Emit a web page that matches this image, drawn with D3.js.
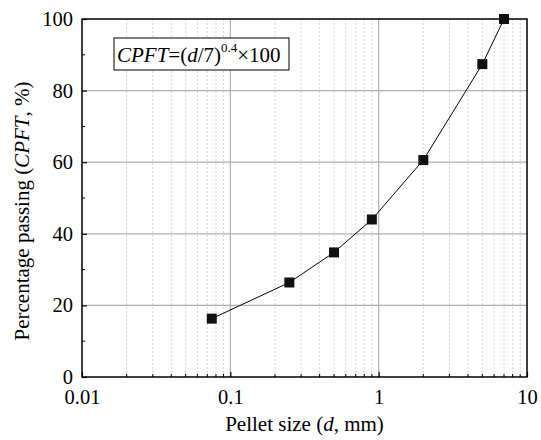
<!DOCTYPE html>
<html>
<head>
<meta charset="utf-8">
<script src="https://cdn.jsdelivr.net/npm/d3@7"></script>
<style>
  body { margin: 0; background: #fff; }
  svg text { font-family: "Liberation Serif", Tinos, "Times New Roman", "DejaVu Serif", serif !important; fill: #000; }
</style>
</head>
<body>
<svg id="chart" width="541" height="440"></svg>
<script>
// Pellet size distribution (Andreasen-type curve)
const pelletSize = [0.075, 0.25, 0.5, 0.9, 2, 5, 7];            // d, mm
const cpft       = [16.3, 26.4, 34.8, 44.0, 60.6, 87.4, 100];    // % passing
const xTickValues = [0.01, 0.1, 1, 10];
const xTickLabels = ["0.01", "0.1", "1", "10"];
const yTickValues = [0, 20, 40, 60, 80, 100];
const yTickLabels = ["0", "20", "40", "60", "80", "100"];

const W = 541, H = 440;
const margin = { left: 82, right: 14, top: 19, bottom: 63 };
const svg = d3.select("#chart");
const serif = '"Liberation Serif", Tinos, "Times New Roman", "DejaVu Serif", serif';

const x = d3.scaleLog().domain([0.01, 10]).range([margin.left, W - margin.right]);
const y = d3.scaleLinear().domain([0, 100]).range([H - margin.bottom, margin.top]);

const x0 = margin.left, x1 = W - margin.right, y0 = H - margin.bottom, y1 = margin.top;

// minor decade values 2..9 in each decade
const minorX = [];
[0.01, 0.1, 1].forEach(dec => { for (let k = 2; k <= 9; k++) minorX.push(+(dec * k).toPrecision(3)); });
const minorY = [10, 30, 50, 70, 90];

const grid = svg.append("g");
// minor vertical gridlines (dotted)
grid.selectAll("line.minx").data(minorX).join("line")
  .attr("x1", d => x(d)).attr("x2", d => x(d)).attr("y1", y0).attr("y2", y1)
  .attr("stroke", "#c8c8c8").attr("stroke-width", 0.8).attr("stroke-dasharray", "2,2");
// major vertical gridlines
grid.selectAll("line.majx").data([0.1, 1]).join("line")
  .attr("x1", d => x(d)).attr("x2", d => x(d)).attr("y1", y0).attr("y2", y1)
  .attr("stroke", "#b0b0b0").attr("stroke-width", 1.2);
// major horizontal gridlines
grid.selectAll("line.majy").data([20, 40, 60, 80]).join("line")
  .attr("x1", x0).attr("x2", x1).attr("y1", d => y(d)).attr("y2", d => y(d))
  .attr("stroke", "#b0b0b0").attr("stroke-width", 1.2);

// axes with inward ticks
const xAxis = d3.axisBottom(x).tickValues(xTickValues)
  .tickFormat((d, i) => xTickLabels[i]).tickSizeInner(-5).tickSizeOuter(0).tickPadding(12);
const gx = svg.append("g").attr("transform", `translate(0,${y0})`).call(xAxis);
gx.selectAll(".minor").data(minorX).join("line").attr("class", "minor")
  .attr("x1", d => x(d)).attr("x2", d => x(d)).attr("y1", 0).attr("y2", -3)
  .attr("stroke", "#000").attr("stroke-width", 1);

const yAxis = d3.axisLeft(y).tickValues(yTickValues)
  .tickFormat((d, i) => yTickLabels[i]).tickSizeInner(-5).tickSizeOuter(0).tickPadding(9);
const gy = svg.append("g").attr("transform", `translate(${x0},0)`).call(yAxis);
gy.selectAll(".minor").data(minorY).join("line").attr("class", "minor")
  .attr("x1", 0).attr("x2", 3).attr("y1", d => y(d)).attr("y2", d => y(d))
  .attr("stroke", "#000").attr("stroke-width", 1);

[gx, gy].forEach(g => {
  g.attr("font-family", serif);
  g.select(".domain").remove();
  g.selectAll(".tick line").attr("stroke", "#000").attr("stroke-width", 1.2);
  g.selectAll(".tick text").attr("font-size", 20.5).attr("font-family", serif).attr("fill", "#000");
});
gx.selectAll(".tick text").attr("dy", "0.71em");

// frame
svg.append("rect").attr("x", x0).attr("y", y1).attr("width", x1 - x0).attr("height", y0 - y1)
  .attr("fill", "none").attr("stroke", "#000").attr("stroke-width", 1.5);

// curve and markers
const pts = pelletSize.map((d, i) => [d, cpft[i]]);
svg.append("path").datum(pts)
  .attr("d", d3.line().x(d => x(d[0])).y(d => y(d[1])))
  .attr("fill", "none").attr("stroke", "#000").attr("stroke-width", 1);
const ms = 10;
svg.selectAll("rect.pt").data(pts).join("rect").attr("class", "pt")
  .attr("x", d => x(d[0]) - ms / 2).attr("y", d => y(d[1]) - ms / 2)
  .attr("width", ms).attr("height", ms).attr("fill", "#111");

// formula box
const fb = svg.append("g");
fb.append("rect").attr("x", 114).attr("y", 38).attr("width", 175).attr("height", 32)
  .attr("fill", "#fff").attr("stroke", "#000").attr("stroke-width", 1);
const ft = fb.append("text").attr("x", 117).attr("y", 62).attr("font-size", 21);
ft.append("tspan").attr("font-style", "italic").text("CPFT");
ft.append("tspan").text("=(");
ft.append("tspan").attr("font-style", "italic").text("d");
ft.append("tspan").text("/7)");
ft.append("tspan").attr("font-size", 13).attr("dy", -10).text("0.4");
ft.append("tspan").attr("dy", 10).text("×100");

// axis titles
const xt = svg.append("text").attr("x", (x0 + x1) / 2).attr("y", 431)
  .attr("text-anchor", "middle").attr("font-size", 21);
xt.append("tspan").text("Pellet size (");
xt.append("tspan").attr("font-style", "italic").text("d");
xt.append("tspan").text(", mm)");

const yt = svg.append("text").attr("transform", `translate(29,211) rotate(-90)`)
  .attr("text-anchor", "middle").attr("font-size", 21);
yt.append("tspan").text("Percentage passing (");
yt.append("tspan").attr("font-style", "italic").text("CPFT");
yt.append("tspan").text(", %)");
</script>
</body>
</html>
